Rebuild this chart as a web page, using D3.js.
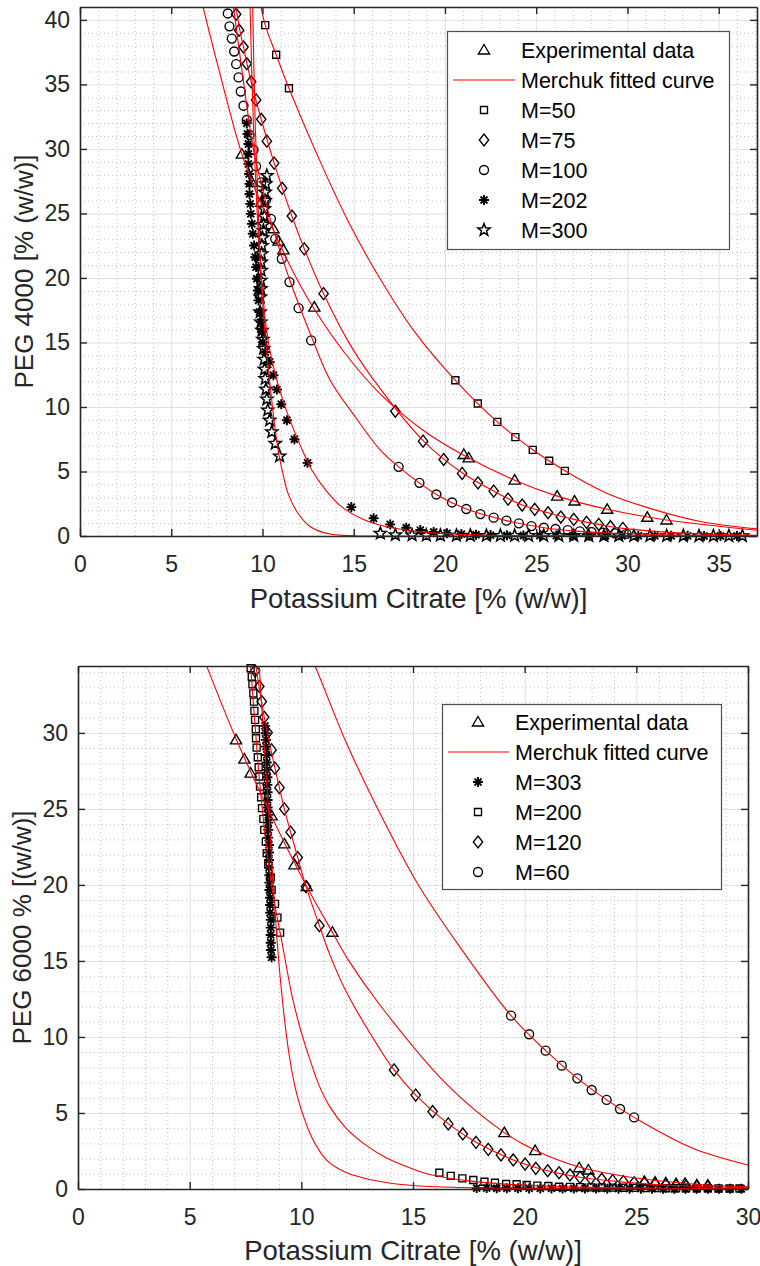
<!DOCTYPE html>
<html>
<head>
<meta charset="utf-8">
<script src="https://cdn.jsdelivr.net/npm/d3@7"></script>
<style>
  body { margin: 0; background: #fff; }
  svg text { font-family: "Liberation Sans", Arial, Helvetica, sans-serif; }
</style>
</head>
<body>
<div id="chart"></div>
<script>
// ---------- PEG 4000 + potassium citrate ----------
var xTicks4000 = [0, 5, 10, 15, 20, 25, 30, 35];
var yTicks4000 = [0, 5, 10, 15, 20, 25, 30, 35, 40];
var names4000 = ["Experimental data", "Merchuk fitted curve", "M=50", "M=75", "M=100", "M=202", "M=300"];

var peg4000Exp = [[8.87,29.6],[9.42,27.41],[9.93,25.87],[10.6,23.81],[10.88,22.85],[11.15,22.18],[12.84,17.74],
  [21.03,6.32],[21.3,6.06],[23.82,4.33],[26.15,3.09],[27.1,2.71],[28.89,2.07],[31.09,1.45],[32.14,1.24]];
var peg4000M50 = [[10.15,39.6],[10.75,37.3],[11.45,34.7],[20.57,12.07],[21.8,10.27],[22.87,8.85],[23.86,7.66],
  [24.81,6.68],[25.71,5.83],[26.57,5.05]];
var peg4000M75 = [[8.56,40.44],[8.72,39.2],[8.96,37.9],[9.14,36.6],[9.38,35.2],[9.65,33.8],[9.93,32.3],[10.24,30.6],
  [10.64,28.9],[11.08,26.95],[11.61,24.8],[12.29,22.26],[13.35,18.78],[17.28,9.67],[18.8,7.35],[19.93,5.93],
  [20.94,4.85],[21.81,4.12],[22.67,3.48],[23.46,2.86],[24.23,2.4],[24.92,2.07],[25.65,1.8],[26.35,1.47],
  [27.06,1.29],[27.76,1.06],[28.43,0.9],[29.07,0.72],[29.75,0.59]];
var peg4000M100 = [[8.1,40.5],[8.19,39.5],[8.32,38.55],[8.45,37.55],[8.56,36.57],[8.69,35.54],[8.81,34.45],
  [8.96,33.35],[9.14,32.24],[9.29,31.08],[9.51,29.92],[9.65,28.65],[9.93,27.41],[10.2,26.07],[10.46,24.58],
  [10.7,23.03],[11.06,21.49],[11.48,19.68],[11.98,17.66],[12.67,15.16],[17.46,5.36],[18.6,4.12],[19.53,3.22],
  [20.39,2.6],[21.17,2.09],[21.94,1.7],[22.67,1.42],[23.37,1.19],[24.05,0.98],[24.74,0.77],[25.42,0.64],
  [26.06,0.54],[26.73,0.46],[27.39,0.36],[28.03,0.31],[28.67,0.26],[29.31,0.21],[29.95,0.17]];
var peg4000M202 = [[9.14,31.98],[9.18,31.16],[9.23,30.38],[9.23,29.61],[9.23,28.84],[9.27,28.06],[9.29,27.29],
  [9.29,26.51],[9.33,25.74],[9.36,24.97],[9.42,24.19],[9.47,23.42],[9.54,22.51],[9.6,21.61],[9.65,20.84],
  [9.69,19.94],[9.75,19.03],[9.78,18.26],[9.84,17.36],[9.91,16.58],[9.97,15.81],[10.02,15.03],[10.15,14.26],
  [10.39,13.49],[10.6,12.46],[10.79,11.35],[11.03,10.21],[11.34,8.97],[11.75,7.5],[12.47,5.67],[14.87,2.24],
  [16.09,1.37],[17.0,0.9],[17.88,0.64],[18.65,0.46],[19.38,0.31],[20.11,0.21],[20.9,0.15],[21.7,0.1],
  [22.5,0.07],[23.4,0.05],[24.3,0.04],[25.2,0.03],[26.1,0.03],[27.0,0.02],[27.9,0.02],[28.8,0.02],
  [29.7,0.01],[30.6,0.01],[31.5,0.01],[32.4,0.01],[33.3,0.01],[34.2,0],[35.1,0],[36.0,0]];
var peg4000M300 = [[10.24,27.93],[10.18,27.29],[10.14,26.64],[10.14,26.0],[10.1,25.35],[10.1,24.76],[10.05,24.14],
  [10.05,23.67],[10.0,23.11],[9.97,22.51],[9.95,21.87],[9.93,21.22],[9.93,20.58],[9.91,19.81],[9.91,19.16],
  [9.88,18.52],[9.87,17.36],[9.91,16.58],[9.97,15.94],[10.02,15.24],[10.06,14.52],[10.09,13.69],[10.11,12.92],
  [10.15,12.2],[10.19,11.37],[10.24,10.6],[10.29,9.75],[10.39,8.97],[10.51,8.07],[10.7,7.17],[10.94,6.19],
  [16.46,0.2],[17.28,0.08],[18.2,0.07],[18.98,0.05],[19.75,0.05],[20.63,0.04],[21.39,0.04],[22.27,0.03],
  [23.04,0.03],[23.82,0.03],[24.59,0.02],[25.41,0.02],[26.24,0.02],[27.06,0.02],[27.88,0.01],[28.71,0.01],
  [29.53,0.01],[30.35,0.01],[31.23,0.01],[32.15,0.01],[33.06,0],[33.92,0],[34.71,0],[35.56,0],[36.3,0]];

// Merchuk curves
var fit4000Exp = [[6.57,42],[7.6,36.2],[8.87,29.6],[9.7,26.5],[10.6,23.7],[11.6,20.7],[12.7,17.9],[14.5,14.2],
  [16.46,11.0],[18.8,8.2],[21.1,6.2],[23.82,4.33],[26.15,3.09],[28.89,2.07],[32.14,1.24],[37.1,0.45]];
var fit4000M50 = [[9.78,42],[10.15,39.6],[10.75,37.3],[11.45,34.7],[13.2,28.9],[14.8,24.1],[16.46,19.9],
  [18.3,15.9],[20.57,12.07],[22.87,8.85],[24.81,6.68],[26.57,5.05],[28.8,3.36],[31.1,2.2],[34,1.13],[37.1,0.55]];
var fit4000M75 = [[8.45,42],[8.72,39.5],[8.96,37.9],[9.38,35.2],[9.93,32.3],[10.64,28.9],[11.61,24.8],
  [12.29,22.26],[13.35,18.78],[14.9,14.6],[16.46,11.4],[18.8,7.4],[20.94,4.9],[22.67,3.48],[24.23,2.4],
  [25.65,1.8],[27.06,1.29],[28.43,0.9],[29.75,0.59],[33,0.22],[37.1,0.06]];
var fit4000M100 = [[8.3,42],[8.41,41],[8.95,35.3],[9.51,29.9],[9.95,27.2],[10.46,24.4],[11.48,19.9],
  [12.62,15.68],[13.71,12.07],[15.1,9.2],[16.46,6.65],[17.46,5.36],[19.53,3.22],[21.17,2.09],[23.37,1.19],
  [25.42,0.64],[27.39,0.36],[29.31,0.21],[33,0.06],[37.1,0.01]];
var fit4000M202 = [[9.3,42],[9.5,32],[9.75,24],[9.97,19.5],[10.2,16.2],[10.5,13.7],[10.79,12.07],[11.15,10.4],
  [11.5,9.0],[12.05,7.1],[12.71,5.1],[13.5,3.5],[14.26,2.35],[15.5,1.3],[16.82,0.72],[19,0.28],[22,0.08],
  [26,0.01],[37.1,0]];
var fit4000M300 = [[9.45,42],[9.6,32],[9.8,24],[9.97,19],[10.15,15.5],[10.39,12.07],[10.7,8.2],[10.9,6.3],
  [11.1,4.97],[11.4,3.3],[11.89,1.88],[12.62,0.72],[13.71,0.15],[15,0.02],[16,0],[37.1,0]];

// ---------- PEG 6000 + potassium citrate ----------
var xTicks6000 = [0, 5, 10, 15, 20, 25, 30];
var yTicks6000 = [0, 5, 10, 15, 20, 25, 30];
var names6000 = ["Experimental data", "Merchuk fitted curve", "M=303", "M=200", "M=120", "M=60"];

var peg6000Exp = [[7.08,29.54],[7.45,28.27],[7.73,27.35],[8.67,24.54],[9.24,22.7],[9.69,21.32],[10.24,19.89],
  [11.39,16.89],[19.09,3.71],[20.47,2.52],[22.44,1.4],[22.85,1.25],[25.36,0.5],[25.84,0.45],[26.32,0.4],
  [26.78,0.35],[27.18,0.37],[27.71,0.28],[28.2,0.25]];
var peg6000M303 = [[8.37,30.46],[8.4,29.98],[8.42,29.54],[8.42,29.1],[8.45,28.55],[8.45,28.05],[8.45,27.57],
  [8.48,27.08],[8.48,26.58],[8.49,26.1],[8.49,25.59],[8.49,25.09],[8.52,24.61],[8.52,24.1],[8.52,23.62],
  [8.52,23.11],[8.55,22.63],[8.55,22.13],[8.55,21.64],[8.55,21.14],[8.57,20.64],[8.57,20.15],[8.57,19.67],
  [8.6,19.16],[8.6,18.68],[8.6,18.18],[8.63,17.7],[8.63,17.19],[8.63,16.71],[8.63,16.2],[8.64,15.72],[8.67,15.24],
  [17.85,0.06],[18.3,0.06],[18.75,0.05],[19.2,0.05],[19.7,0.05],[20.2,0.04],[20.7,0.04],[21.2,0.04],[21.7,0.03],
  [22.2,0.03],[22.7,0.03],[23.2,0.03],[23.7,0.02],[24.2,0.02],[24.7,0.02],[25.2,0.02],[25.7,0.02],[26.2,0.01],
  [26.7,0.01],[27.2,0.01],[27.7,0.01],[28.2,0.01],[28.7,0.01],[29.2,0.01],[29.7,0.01]];
var peg6000M200 = [[7.73,34.25],[7.78,33.7],[7.81,33.2],[7.85,32.6],[7.88,32.06],[7.9,31.45],[7.93,30.86],
  [7.96,30.24],[7.97,29.65],[8.0,29.03],[8.05,28.4],[8.09,27.74],[8.12,27.13],[8.15,26.47],[8.2,25.77],
  [8.24,25.05],[8.3,24.34],[8.34,23.62],[8.41,22.85],[8.45,22.09],[8.52,21.36],[8.63,20.5],[8.67,19.67],
  [8.82,18.75],[8.93,17.85],[9.05,16.86],[16.18,1.07],[16.69,0.86],[17.21,0.7],[17.7,0.59],[18.2,0.48],
  [18.67,0.41],[19.17,0.33],[19.64,0.31],[20.09,0.26],[20.57,0.22],[21.06,0.2],[21.54,0.15],[22.03,0.14],
  [22.48,0.12],[22.96,0.11],[23.45,0.1],[23.94,0.09],[24.42,0.08],[24.9,0.07],[25.36,0.06],[25.84,0.06],
  [26.32,0.05],[26.78,0.05],[27.23,0.04],[27.71,0.04],[28.2,0.04],[28.68,0.03],[29.17,0.03],[29.62,0.03]];
var peg6000M120 = [[7.93,34.08],[8.12,33.05],[8.23,32.06],[8.34,31.03],[8.49,30.02],[8.67,28.88],[8.82,27.68],
  [9.02,26.4],[9.24,25.0],[9.52,23.47],[9.84,21.8],[10.21,19.89],[10.81,17.32],[14.15,7.83],[15.12,6.18],
  [15.88,5.09],[16.58,4.28],[17.23,3.62],[17.82,3.07],[18.37,2.61],[18.94,2.24],[19.49,1.91],[20.02,1.64],
  [20.5,1.36],[21.03,1.2],[21.54,1.07],[22.03,0.92],[22.48,0.77],[22.96,0.7],[23.45,0.64],[23.94,0.55],
  [24.42,0.48],[24.9,0.41],[25.36,0.37],[25.84,0.31],[26.32,0.26],[26.78,0.22],[27.23,0.2],[27.71,0.15],[28.2,0.15]];
var peg6000M60 = [[19.39,11.4],[20.2,10.18],[20.94,9.1],[21.66,8.11],[22.36,7.28],[23.0,6.51],[23.67,5.86],
  [24.27,5.26],[24.9,4.71]];

var fit6000Exp = [[5.6,35],[5.76,34.4],[7.08,29.6],[8.67,24.5],[10.24,19.9],[11.39,16.89],[12.1,15.07],
  [13.52,12.1],[16.5,6.9],[19.09,3.71],[20.47,2.55],[22.44,1.45],[25,0.72],[27.5,0.33],[30,0.14]];
var fit6000M303 = [[8.05,36],[8.3,30],[8.53,25],[8.74,20],[8.92,16.2],[9.1,13.2],[9.3,10.5],[9.49,8.5],
  [9.72,6.7],[10.0,5.2],[10.5,3.3],[11.13,1.9],[11.9,1.15],[12.78,0.72],[14,0.38],[15.76,0.16],[20,0.03],[30,0]];
var fit6000M200 = [[7.7,35],[7.9,31],[8.1,27.3],[8.3,24.3],[8.52,21.5],[8.8,18.8],[9.1,16.5],[9.6,12.6],
  [10.0,10.3],[10.39,8.49],[10.8,6.8],[11.28,5.4],[12.0,4.0],[12.78,3.0],[13.8,2.05],[15.02,1.3],[15.76,0.95],
  [17.7,0.5],[19.64,0.28],[22,0.14],[26,0.05],[30,0.02]];
var fit6000M120 = [[7.9,35],[8.34,31.03],[8.82,27.68],[9.24,25.0],[9.84,21.8],[10.21,19.89],[10.81,17.32],
  [11.28,15.4],[12.0,13.0],[13.52,9.2],[14.15,7.83],[15.12,6.18],[16.58,4.28],[17.82,3.07],[19.49,1.91],
  [21.03,1.2],[22.48,0.77],[24.42,0.45],[26.32,0.26],[28.2,0.15],[30,0.08]];
var fit6000M60 = [[10.4,35],[10.61,34.4],[12.0,29.4],[13.52,24.72],[15.2,20.1],[16.88,16.38],[19.39,11.4],
  [20.94,9.1],[22.36,7.28],[23.67,5.86],[24.9,4.71],[27.5,2.7],[30,1.58]];

// ---------- drawing ----------
var svg = d3.select("#chart").append("svg")
    .attr("width", 760)
    .attr("height", 1266);

// marker outlines, centred on the point
function markerPath(shape) {
  if (shape == "triangle") return "M0,-5.5L5.6,4L-5.6,4Z";
  if (shape == "square") return "M-3.5,-3.5H3.5V3.5H-3.5Z";
  if (shape == "diamond") return "M0,-6L4.7,0L0,6L-4.7,0Z";
  if (shape == "circle") return "M4.5,0A4.5,4.5 0 1,1 -4.5,0A4.5,4.5 0 1,1 4.5,0Z";
  if (shape == "asterisk") return "M-5,0H5M0,-5V5M-3.5,-3.5L3.5,3.5M-3.5,3.5L3.5,-3.5";
  // five pointed star
  var pts = d3.range(10).map(function(i) {
    var a = -Math.PI / 2 + i * Math.PI / 5, r = i % 2 ? 2.7 : 6.4;
    return [r * Math.cos(a), r * Math.sin(a)];
  });
  return "M" + pts.join("L") + "Z";
}

function markerWidth(shape) {
  return shape == "asterisk" ? 1.9 : (shape == "star" ? 1.5 : 1.35);
}

function drawPanel(p) {
  var x = d3.scaleLinear().domain([0, p.xMax]).range([p.left, p.right]);
  var y = d3.scaleLinear().domain([0, p.yMax]).range([p.bottom, p.top]);
  var w = p.right - p.left, h = p.bottom - p.top;

  var g = svg.append("g");

  g.append("clipPath").attr("id", p.id)
    .append("rect")
    .attr("x", p.left).attr("y", p.top).attr("width", w).attr("height", h);

  // minor grid (every unit), then major grid
  var xMinor = d3.range(1, p.xMax, 1).filter(function(v) { return v % 5 != 0; });
  var yMinor = d3.range(1, p.yMax, 1).filter(function(v) { return v % 5 != 0; });

  g.append("g")
    .attr("transform", "translate(0," + p.bottom + ")")
    .call(d3.axisBottom(x).tickValues(xMinor).tickSize(-h).tickFormat(""))
    .call(function(s) { s.select(".domain").remove(); })
    .selectAll("line").attr("stroke", "#c2c2c2").attr("stroke-dasharray", "1,3");
  g.append("g")
    .attr("transform", "translate(" + p.left + ",0)")
    .call(d3.axisLeft(y).tickValues(yMinor).tickSize(-w).tickFormat(""))
    .call(function(s) { s.select(".domain").remove(); })
    .selectAll("line").attr("stroke", "#c2c2c2").attr("stroke-dasharray", "1,3");

  g.append("g")
    .attr("transform", "translate(0," + p.bottom + ")")
    .call(d3.axisBottom(x).tickValues(p.xTicks).tickSize(-h).tickFormat(""))
    .call(function(s) { s.select(".domain").remove(); })
    .selectAll("line").attr("stroke", "#e0e0e0");
  g.append("g")
    .attr("transform", "translate(" + p.left + ",0)")
    .call(d3.axisLeft(y).tickValues(p.yTicks).tickSize(-w).tickFormat(""))
    .call(function(s) { s.select(".domain").remove(); })
    .selectAll("line").attr("stroke", "#e0e0e0");

  // data markers
  p.series.forEach(function(s) {
    g.append("g").selectAll("path")
      .data(s.points)
      .enter().append("path")
      .attr("d", markerPath(s.shape))
      .attr("transform", function(d) { return "translate(" + x(d[0]) + "," + y(d[1]) + ")"; })
      .attr("fill", "none")
      .attr("stroke", "#000")
      .attr("stroke-width", markerWidth(s.shape));
  });

  // fitted curves
  var line = d3.line()
    .x(function(d) { return x(d[0]); })
    .y(function(d) { return y(d[1]); })
    .curve(d3.curveCatmullRom.alpha(0.5));

  g.append("g").attr("clip-path", "url(#" + p.id + ")")
    .selectAll("path")
    .data(p.fits)
    .enter().append("path")
    .attr("d", line)
    .attr("fill", "none")
    .attr("stroke", "#ff0000")
    .attr("stroke-width", 1.1);

  // box with inward ticks
  var axes = [
    {axis: d3.axisBottom(x).tickValues(p.xTicks).tickPadding(20), t: "translate(0," + p.bottom + ")"},
    {axis: d3.axisLeft(y).tickValues(p.yTicks).tickPadding(10), t: "translate(" + p.left + ",0)"},
    {axis: d3.axisTop(x).tickValues(p.xTicks).tickFormat(""), t: "translate(0," + p.top + ")"},
    {axis: d3.axisRight(y).tickValues(p.yTicks).tickFormat(""), t: "translate(" + p.right + ",0)"}
  ];
  axes.forEach(function(a) {
    g.append("g")
      .attr("transform", a.t)
      .attr("color", "#262626")
      .call(a.axis.tickSize(-7).tickSizeOuter(0))
      .call(function(s) {
        s.select(".domain").attr("stroke-width", 1.6);
        s.selectAll("line").attr("stroke-width", 1.4);
        s.selectAll("text").attr("font-size", 23).attr("font-family", null);
      });
  });

  // axis titles
  g.append("text")
    .attr("x", (p.left + p.right) / 2)
    .attr("y", p.xLabelY)
    .attr("text-anchor", "middle")
    .attr("font-size", 27.5)
    .attr("fill", "#262626")
    .text(p.xLabel);

  g.append("text")
    .attr("transform", "translate(" + p.yLabelX + "," + (p.top + p.bottom) / 2 + ") rotate(-90)")
    .attr("text-anchor", "middle")
    .attr("font-size", 26)
    .attr("fill", "#262626")
    .text(p.yLabel);

  // legend
  var L = p.legend;
  var lg = g.append("g");
  lg.append("rect")
    .attr("x", L.x + 0.5).attr("y", L.y + 0.5)
    .attr("width", L.w).attr("height", L.h)
    .attr("fill", "#fff")
    .attr("stroke", "#4d4d4d")
    .attr("stroke-width", 1.2);

  var rows = lg.selectAll("g.row")
    .data(L.items)
    .enter().append("g")
    .attr("class", "row")
    .attr("transform", function(d, i) { return "translate(0," + (L.rowY + i * L.step) + ")"; });

  rows.filter(function(d) { return d.shape == "line"; })
    .append("line")
    .attr("x1", L.lineX1).attr("x2", L.lineX2)
    .attr("stroke", "#ff0000").attr("stroke-width", 1.1);

  rows.filter(function(d) { return d.shape != "line"; })
    .append("path")
    .attr("d", function(d) { return markerPath(d.shape); })
    .attr("transform", "translate(" + L.markerX + ",0)")
    .attr("fill", "none")
    .attr("stroke", "#000")
    .attr("stroke-width", function(d) { return markerWidth(d.shape); });

  rows.append("text")
    .attr("x", L.textX)
    .attr("dy", "0.35em")
    .attr("font-size", 21.5)
    .attr("fill", "#000")
    .text(function(d) { return d.name; });
}

var shapes4000 = ["triangle", "line", "square", "diamond", "circle", "asterisk", "star"];
var shapes6000 = ["triangle", "line", "asterisk", "square", "diamond", "circle"];

drawPanel({
  id: "clip4000",
  left: 80, right: 757, top: 7, bottom: 536,
  xMax: 37.1, yMax: 41,
  xTicks: xTicks4000, yTicks: yTicks4000,
  xLabel: "Potassium Citrate [% (w/w)]", xLabelY: 608,
  yLabel: "PEG 4000 [% (w/w)]", yLabelX: 33,
  series: [
    {shape: "triangle", points: peg4000Exp},
    {shape: "square", points: peg4000M50},
    {shape: "diamond", points: peg4000M75},
    {shape: "circle", points: peg4000M100},
    {shape: "asterisk", points: peg4000M202},
    {shape: "star", points: peg4000M300}
  ],
  fits: [fit4000Exp, fit4000M50, fit4000M75, fit4000M100, fit4000M202, fit4000M300],
  legend: {
    x: 447, y: 31, w: 282, h: 218, rowY: 50, step: 30,
    markerX: 484, lineX1: 453, lineX2: 515, textX: 521,
    items: names4000.map(function(n, i) { return {name: n, shape: shapes4000[i]}; })
  }
});

drawPanel({
  id: "clip6000",
  left: 78, right: 748, top: 666, bottom: 1189,
  xMax: 30, yMax: 34.4,
  xTicks: xTicks6000, yTicks: yTicks6000,
  xLabel: "Potassium Citrate [% (w/w)]", xLabelY: 1260,
  yLabel: "PEG 6000 % [(w/w)]", yLabelX: 31,
  series: [
    {shape: "triangle", points: peg6000Exp},
    {shape: "asterisk", points: peg6000M303},
    {shape: "square", points: peg6000M200},
    {shape: "diamond", points: peg6000M120},
    {shape: "circle", points: peg6000M60}
  ],
  fits: [fit6000Exp, fit6000M303, fit6000M200, fit6000M120, fit6000M60],
  legend: {
    x: 442, y: 704, w: 279, h: 185, rowY: 722, step: 30,
    markerX: 478, lineX1: 448, lineX2: 509, textX: 515,
    items: names6000.map(function(n, i) { return {name: n, shape: shapes6000[i]}; })
  }
});
</script>
</body>
</html>
